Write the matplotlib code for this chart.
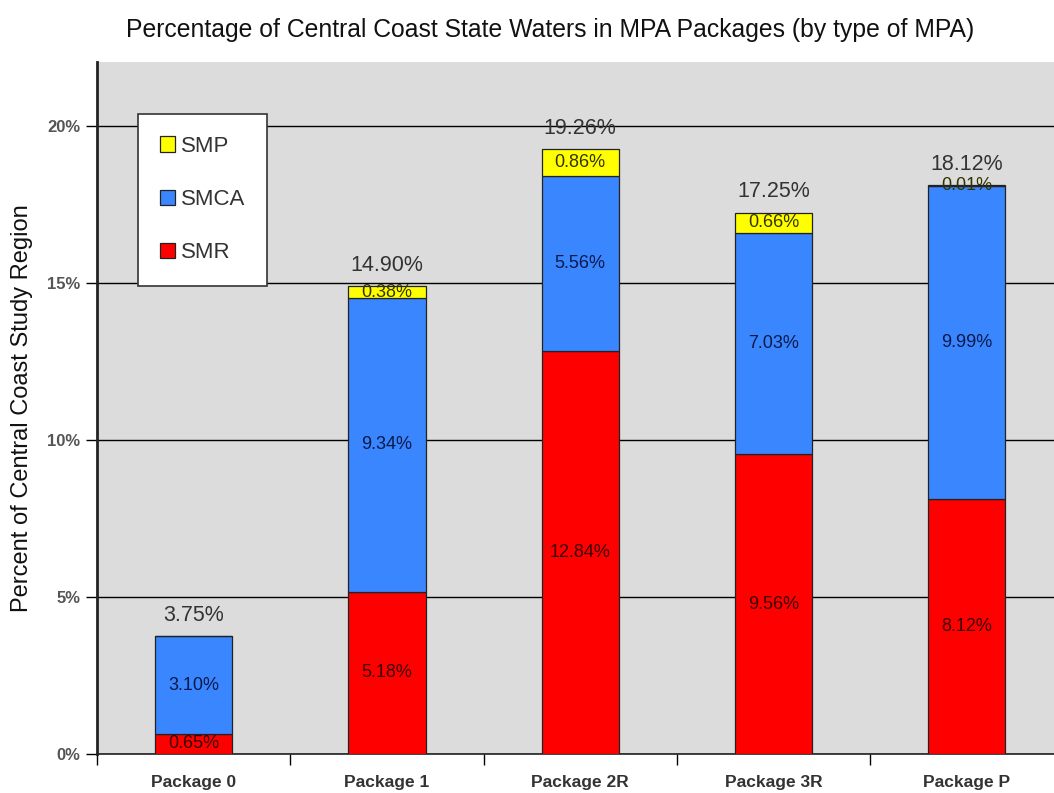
import numpy as np
import matplotlib
matplotlib.use('Agg')
import matplotlib.pyplot as plt

plt.rcParams['font.family'] = ['Liberation Sans', 'DejaVu Sans']

# data (percent of study region)
packages = ['Package 0', 'Package 1', 'Package 2R', 'Package 3R', 'Package P']
smr = [0.65, 5.18, 12.84, 9.56, 8.12]
smca = [3.10, 9.34, 5.56, 7.03, 9.99]
smp = [0.0, 0.38, 0.86, 0.66, 0.01]
totals = [3.75, 14.90, 19.26, 17.25, 18.12]

c_smr = '#ff0000'
c_smca = '#3a86ff'
c_smp = '#ffff00'

fig = plt.figure(figsize=(10.54, 7.93), dpi=100)
ax = fig.add_axes([0.092, 0.049, 0.917, 0.873])
ax.set_facecolor('#dcdcdc')

x = np.arange(len(packages))
w = 0.40
smr_a = np.array(smr)
smca_a = np.array(smca)
smp_a = np.array(smp)

b1 = ax.bar(x, smr_a, w, color=c_smr, edgecolor='#222222', lw=0.9, label='SMR', zorder=3)
b2 = ax.bar(x, smca_a, w, bottom=smr_a, color=c_smca, edgecolor='#222222', lw=0.9, label='SMCA', zorder=3)
b3 = ax.bar(x, smp_a, w, bottom=smr_a + smca_a, color=c_smp, edgecolor='#222222', lw=0.9, label='SMP', zorder=3)

# segment labels
for i in range(len(packages)):
    ax.text(x[i], smr_a[i] / 2, '%.2f%%' % smr[i], ha='center', va='center',
            fontsize=13, color='#3a0000', zorder=4)
    ax.text(x[i], smr_a[i] + smca_a[i] / 2, '%.2f%%' % smca[i], ha='center', va='center',
            fontsize=13, color='#0a1a4a', zorder=4)
    if smp[i] > 0:
        ax.text(x[i], smr_a[i] + smca_a[i] + smp_a[i] / 2, '%.2f%%' % smp[i],
                ha='center', va='center', fontsize=13, color='#333300', zorder=4)
    ax.text(x[i], totals[i] + 0.33, '%.2f%%' % totals[i], ha='center', va='bottom',
            fontsize=15.5, color='#333333', zorder=4)

ax.set_xlim(-0.5, 4.5)
ax.set_ylim(0, 22.05)
ax.set_yticks([0, 5, 10, 15, 20])
ax.set_yticklabels(['0%', '5%', '10%', '15%', '20%'], fontsize=12, fontweight='bold', color='#555555')
ax.yaxis.grid(True, color='black', lw=1.0, zorder=1)
ax.tick_params(axis='y', length=8, width=1, direction='out', pad=4)

ax.set_xticks(np.arange(-0.5, 5.0, 1.0))
ax.set_xticklabels([])
ax.set_xticks(x, minor=True)
ax.set_xticklabels(packages, minor=True, fontsize=12.5, fontweight='bold', color='#333333')
ax.tick_params(axis='x', which='major', length=8, width=1, direction='out')
ax.tick_params(axis='x', which='minor', length=0, pad=15)

for s in ['top', 'right']:
    ax.spines[s].set_visible(False)
ax.spines['left'].set_linewidth(2)
ax.spines['left'].set_color('#222222')
ax.spines['bottom'].set_linewidth(1.2)
ax.spines['bottom'].set_color('#222222')

ax.set_ylabel('Percent of Central Coast Study Region', fontsize=17, color='#111111', labelpad=10)
fig.text(0.522, 0.962, 'Percentage of Central Coast State Waters in MPA Packages (by type of MPA)',
         ha='center', va='center', fontsize=17.8, color='#111111')

leg = ax.legend(handles=[b3, b2, b1], labels=['SMP', 'SMCA', 'SMR'], loc='upper left',
                bbox_to_anchor=(0.042, 0.925), fontsize=16, frameon=True, fancybox=False,
                labelspacing=1.45, handlelength=0.7, handleheight=0.7, handletextpad=0.25,
                borderpad=1.0, borderaxespad=0)
leg.get_frame().set_edgecolor('#333333')
leg.get_frame().set_linewidth(1.2)
leg.get_frame().set_facecolor('white')
leg.get_frame().set_alpha(1)
leg._legend_box.align = 'left'
for t in leg.get_texts():
    t.set_color('#333333')
leg.set_zorder(5)

fig.savefig('out.png', dpi=100)
